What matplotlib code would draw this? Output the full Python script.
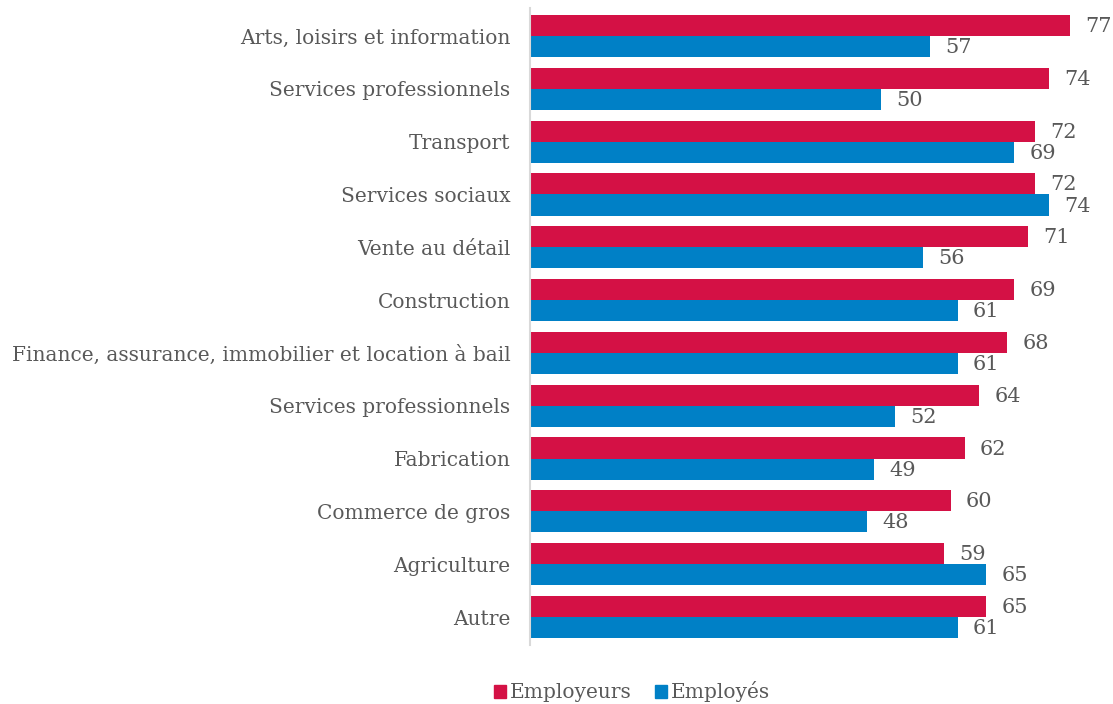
import matplotlib.pyplot as plt
import matplotlib.patches as mpatches
import numpy as np

# data, top to bottom as in the chart
sectors = [
    'Arts, loisirs et information',
    'Services professionnels',
    'Transport',
    'Services sociaux',
    'Vente au détail',
    'Construction',
    'Finance, assurance, immobilier et location à bail',
    'Services professionnels',
    'Fabrication',
    'Commerce de gros',
    'Agriculture',
    'Autre',
]
employeurs = [77, 74, 72, 72, 71, 69, 68, 64, 62, 60, 59, 65]
employes = [57, 50, 69, 74, 56, 61, 61, 52, 49, 48, 65, 61]

red = '#D41145'
blue = '#0080C6'
text_col = '#595959'

plt.rcParams['font.family'] = ['DejaVu Serif']

fig = plt.figure(figsize=(11.13, 7.04), dpi=100)
ax = fig.add_axes([530 / 1113, 1 - 645 / 704, 570 / 1113, 637 / 704])

y = np.arange(len(sectors))
h = 0.4
b1 = ax.barh(y - h / 2, employeurs, height=h, color=red, label='Employeurs')
b2 = ax.barh(y + h / 2, employes, height=h, color=blue, label='Employés')

# value labels right of each bar
for bars, vals in ((b1, employeurs), (b2, employes)):
    for bar, v in zip(bars, vals):
        ax.text(bar.get_width() + 2.2, bar.get_y() + bar.get_height() / 2 + 0.02, str(v),
                va='center', ha='left', fontsize=15, color=text_col)

ax.set_xlim(0, 81.3)
ax.set_ylim(len(sectors) - 0.47, -0.53)
ax.set_yticks(y)
ax.set_yticklabels(sectors, fontsize=14.5, color=text_col)
ax.tick_params(axis='y', length=0, pad=14)
ax.set_xticks([])

for s in ('top', 'right', 'bottom'):
    ax.spines[s].set_visible(False)
ax.spines['left'].set_color('#d9d9d9')
ax.spines['left'].set_linewidth(1.5)

handles = [mpatches.Patch(color=red, label='Employeurs'),
           mpatches.Patch(color=blue, label='Employés')]
fig.legend(handles=handles, loc='center', bbox_to_anchor=(632 / 1113, 1 - 692 / 704),
           ncol=2, frameon=False, fontsize=14.5, labelcolor=text_col,
           handlelength=0.6, handleheight=0.6, handletextpad=0.15, columnspacing=1.2)

plt.savefig('out.png', dpi=100, facecolor='white')
